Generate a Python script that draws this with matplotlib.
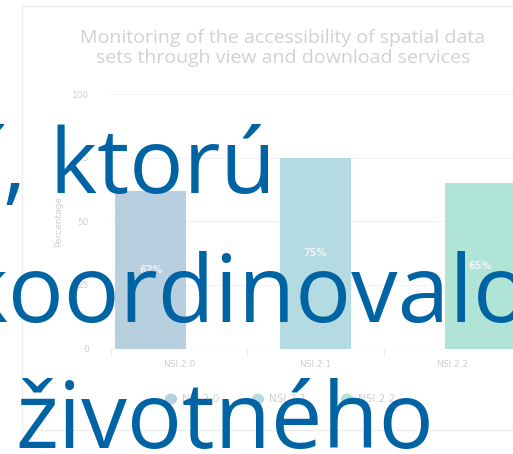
import matplotlib.pyplot as plt
from matplotlib.patches import Rectangle

categories = ["NSI.2.0", "NSI.2.1", "NSI.2.2"]
values = [62, 75, 65]
value_labels = ["62%", "75%", "65%"]
bar_colors = ["#b7cfdf", "#b3dbe1", "#b0e4d6"]
yticks = [0, 25, 50, 75, 100]
title = "Monitoring of the accessibility of spatial data\nsets through view and download services"
overlay_lines = ["í, ktorú", "koordinovalo", "životného"]

W, H = 513, 454
fig = plt.figure(figsize=(W / 100, H / 100), dpi=100)
fig.patch.set_facecolor("white")

# faint chart frame
fig.patches.append(Rectangle((22 / W, 1 - 430 / H), 0.99, 424 / H, transform=fig.transFigure,
                             fill=False, edgecolor="#efefef", lw=1))

ax = fig.add_axes([111 / W, 1 - 348.5 / H, 409 / W, 254.5 / H])
ax.set_facecolor("none")
for s in ax.spines.values():
    s.set_visible(False)

width = 0.52
for i, (v, c) in enumerate(zip(values, bar_colors)):
    x = i + (i - 1) * 0.21
    ax.bar(x, v, width=width, color=c, zorder=2)
    ax.text(x, v / 2, value_labels[i], ha="center", va="center", color="#eef3f6",
            fontsize=7, fontweight="bold", zorder=3)

ax.set_xlim(-0.5, 2.5)
ax.set_ylim(0, 100)
ax.set_yticks(yticks)
ax.set_yticklabels([str(t) for t in yticks], color="#d0d0d0", fontsize=6.5)
ax.set_xticks(range(3))
ax.set_xticklabels(categories, color="#d0d0d0", fontsize=6.5)
ax.tick_params(axis="y", length=0, pad=16)
ax.tick_params(axis="x", length=0, pad=8)
ax.set_xticks([-0.5, 0.5, 1.5, 2.5], minor=True)
ax.tick_params(axis="x", which="minor", length=6, color="#e6e9f0")
ax.grid(axis="y", color="#f3f3f3", lw=0.8, zorder=0)
ax.axhline(0, color="#e6e9f0", lw=1, zorder=1)
ax.set_ylabel("Percentage", color="#d0d0d0", fontsize=6.5, labelpad=6)

fig.text(283 / W, 1 - 48 / H, title, ha="center", va="center", color="#d2d2d2",
         fontsize=14, linespacing=1.2, family="Open Sans")

# legend
for i, (name, c) in enumerate(zip(categories, bar_colors)):
    mx = [171, 258, 347][i]
    fig.patches.append(plt.Circle((mx / W, 1 - 399 / H), 0.0105, transform=fig.transFigure,
                                  color=c))
    fig.text((mx + 11) / W, 1 - 399 / H, name, ha="left", va="center",
             color="#d0d0d0", fontsize=7.5)

# overlaid slide text
blue = "#0064a4"
fig.text(276 / W, 1 - 193 / H, overlay_lines[0], ha="right", va="baseline",
         color=blue, fontsize=65, family="Open Sans")
fig.text(-41 / W, 1 - 322 / H, overlay_lines[1], ha="left", va="baseline",
         color=blue, fontsize=67, family="Open Sans")
fig.text(15 / W, 1 - 448 / H, overlay_lines[2], ha="left", va="baseline",
         color=blue, fontsize=66, family="Open Sans")

fig.savefig("out.png", dpi=100)
